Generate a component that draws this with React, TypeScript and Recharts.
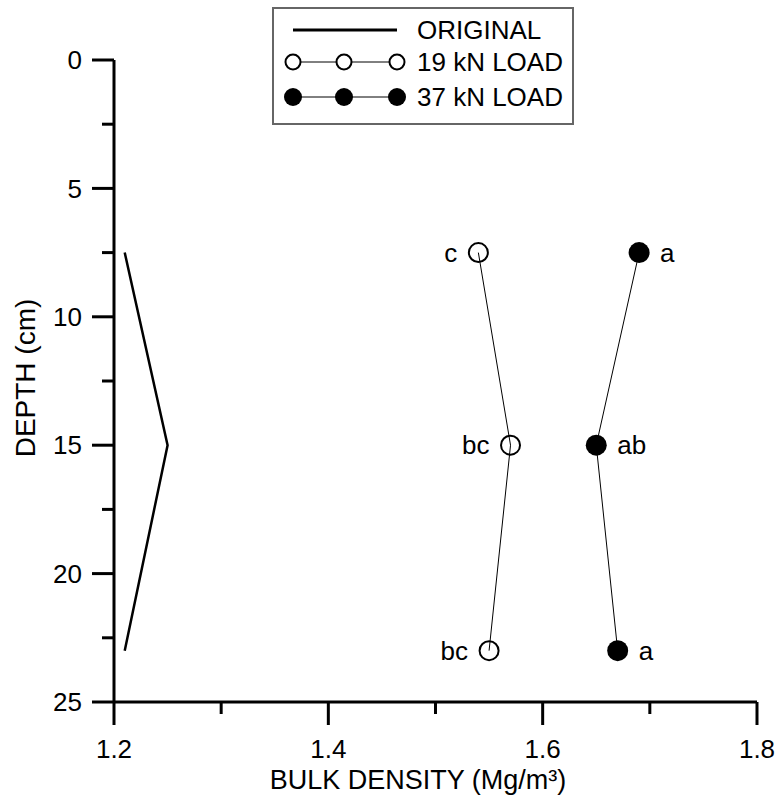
import React from 'react';
import { ScatterChart, Scatter, XAxis, YAxis, Legend, Label } from 'recharts';

const depths = [7.5, 15, 23];
const originalDensity = [1.21, 1.25, 1.21];
const load19Density = [1.54, 1.57, 1.55];
const load37Density = [1.69, 1.65, 1.67];
const load19Letters = ['c', 'bc', 'bc'];
const load37Letters = ['a', 'ab', 'a'];
const xTicks = [1.2, 1.3, 1.4, 1.5, 1.6, 1.7, 1.8];
const yTicks = [0, 2.5, 5, 7.5, 10, 12.5, 15, 17.5, 20, 22.5, 25];
const seriesNames = ['ORIGINAL', '19 kN LOAD', '37 kN LOAD'];

const FONT = '"Liberation Sans", Arial, sans-serif';

const originalData = depths.map((d, i) => ({ x: originalDensity[i], y: d }));
const load19Data = depths.map((d, i) => ({ x: load19Density[i], y: d, label: load19Letters[i] }));
const load37Data = depths.map((d, i) => ({ x: load37Density[i], y: d, label: load37Letters[i] }));

const XTick = (props: any) => {
  const { x, y, payload } = props;
  const v = payload.value;
  const major = Math.round(v * 10) % 2 === 0;
  return (
    <g>
      <line x1={x} x2={x} y1={y} y2={y + (major ? 23 : 12)} stroke="#000" strokeWidth={3} />
      {major && (
        <text x={x} y={y + 56} textAnchor="middle" fontFamily={FONT} fontSize={26} fill="#000">
          {v.toFixed(1)}
        </text>
      )}
    </g>
  );
};

const YTick = (props: any) => {
  const { x, y, payload } = props;
  const v = payload.value;
  const major = v % 5 === 0;
  return (
    <g>
      <line x1={x} x2={x - (major ? 22 : 12)} y1={y} y2={y} stroke="#000" strokeWidth={3} />
      {major && (
        <text x={x - 32} y={y} dy="0.35em" textAnchor="end" fontFamily={FONT} fontSize={26} fill="#000">
          {v}
        </text>
      )}
    </g>
  );
};

const NoDot = () => <g />;

const OpenDot = (props: any) => {
  const { cx, cy, payload } = props;
  return (
    <g>
      <circle cx={cx} cy={cy} r={9.5} fill="none" stroke="#000" strokeWidth={2} />
      <text x={cx - 21} y={cy} dy="0.35em" textAnchor="end" fontFamily={FONT} fontSize={26} fill="#000">
        {payload.label}
      </text>
    </g>
  );
};

const FilledDot = (props: any) => {
  const { cx, cy, payload } = props;
  return (
    <g>
      <circle cx={cx} cy={cy} r={10.5} fill="#000" stroke="none" />
      <text x={cx + 21} y={cy} dy="0.35em" textAnchor="start" fontFamily={FONT} fontSize={26} fill="#000">
        {payload.label}
      </text>
    </g>
  );
};

const LegendBox = () => {
  const rows = [23, 55, 90];
  const xs = [19, 70, 123];
  return (
    <div style={{ width: 302, height: 118, border: '2px solid #666', boxSizing: 'border-box', background: '#fff' }}>
      <svg width={298} height={114} style={{ display: 'block' }}>
        <line x1={xs[0]} x2={xs[2]} y1={rows[0] - 2} y2={rows[0] - 2} stroke="#000" strokeWidth={3} />
        <line x1={xs[0]} x2={xs[2]} y1={rows[1] - 2} y2={rows[1] - 2} stroke="#000" strokeWidth={1} />
        {xs.map((x, i) => (
          <circle key={'o' + i} cx={x} cy={rows[1] - 2} r={7.5} fill="#fff" stroke="#000" strokeWidth={2} />
        ))}
        <line x1={xs[0]} x2={xs[2]} y1={rows[2] - 2} y2={rows[2] - 2} stroke="#000" strokeWidth={1} />
        {xs.map((x, i) => (
          <circle key={'f' + i} cx={x} cy={rows[2] - 2} r={9} fill="#000" />
        ))}
        {seriesNames.map((n, i) => (
          <text key={n} x={143} y={rows[i] - 2} dy="0.35em" fontFamily={FONT} fontSize={26} fill="#000">
            {n}
          </text>
        ))}
      </svg>
    </div>
  );
};

export default function App() {
  return (
    <div style={{ position: 'absolute', left: 0, top: 0, width: 778, height: 799, background: '#fff' }}>
      <ScatterChart width={778} height={799} margin={{ top: 60, right: 21, left: 0, bottom: 0 }}>
        <XAxis
          type="number"
          dataKey="x"
          domain={[1.2, 1.8]}
          ticks={xTicks}
          interval={0}
          tickSize={0}
          tickMargin={0}
          tickLine={false}
          tick={<XTick />}
          axisLine={{ stroke: '#000', strokeWidth: 3 }}
          height={97}
        >
          <Label
            content={() => (
              <text x={418} y={789} textAnchor="middle" fontFamily={FONT} fontSize={27} fill="#000">
                BULK DENSITY (Mg/m³)
              </text>
            )}
          />
        </XAxis>
        <YAxis
          type="number"
          dataKey="y"
          domain={[0, 25]}
          reversed
          ticks={yTicks}
          interval={0}
          tickSize={0}
          tickMargin={0}
          tickLine={false}
          tick={<YTick />}
          axisLine={{ stroke: '#000', strokeWidth: 3 }}
          width={114}
        >
          <Label
            content={() => (
              <text
                x={35}
                y={378}
                transform="rotate(-90 35 378)"
                textAnchor="middle"
                fontFamily={FONT}
                fontSize={28}
                fill="#000"
              >
                DEPTH (cm)
              </text>
            )}
          />
        </YAxis>
        <Legend
          layout="vertical"
          align="center"
          verticalAlign="middle"
          content={<LegendBox />}
          wrapperStyle={{ position: 'absolute', left: 272, top: 7, width: 302, height: 118 }}
        />
        <Scatter
          name={seriesNames[0]}
          data={originalData}
          line={{ stroke: '#000', strokeWidth: 2.5 }}
          shape={<NoDot />}
          isAnimationActive={false}
        />
        <Scatter
          name={seriesNames[1]}
          data={load19Data}
          line={{ stroke: '#000', strokeWidth: 1 }}
          shape={<OpenDot />}
          isAnimationActive={false}
        />
        <Scatter
          name={seriesNames[2]}
          data={load37Data}
          line={{ stroke: '#000', strokeWidth: 1 }}
          shape={<FilledDot />}
          isAnimationActive={false}
        />
      </ScatterChart>
    </div>
  );
}
